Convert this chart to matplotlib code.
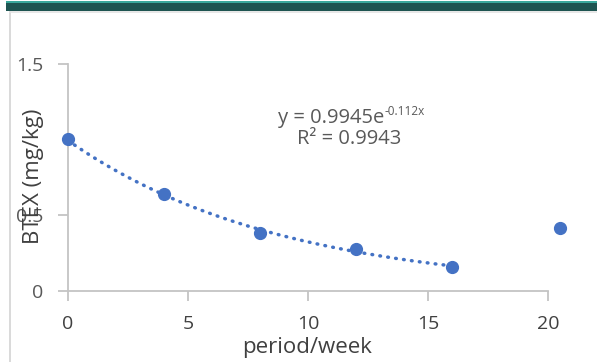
import matplotlib
matplotlib.use("Agg")
import matplotlib.pyplot as plt
import numpy as np
from matplotlib.patches import Rectangle
from matplotlib.lines import Line2D

weeks = [0, 4, 8, 12, 16, 20.5]
btex = [1.003, 0.641, 0.381, 0.278, 0.161, 0.414]
fit_a = 0.9945
fit_b = -0.112
fit_x_max = 16
x_ticks = [0, 5, 10, 15, 20]
y_ticks = [0, 0.5, 1.5]
y_ticklabels = ["0", "0.5", "1.5"]

W, H = 597, 362
fig = plt.figure(figsize=(W / 100, H / 100), dpi=100)
fig.patch.set_facecolor("white")

# header bars and frame
fig.add_artist(Rectangle((6 / W, 1 - 3 / H), 1, 2 / H, transform=fig.transFigure,
                         color="#3aa89c", lw=0))
fig.add_artist(Rectangle((6 / W, 1 - 10.7 / H), 1, 7.7 / H, transform=fig.transFigure,
                         color="#1e5451", lw=0))
fig.add_artist(Line2D([10 / W, 10 / W], [0, 1 - 11.5 / H], transform=fig.transFigure,
                      color="#d9d9d9", lw=1.4))
fig.add_artist(Line2D([10 / W, 1], [1 - 12 / H, 1 - 12 / H], transform=fig.transFigure,
                      color="#e3e3e3", lw=1.2))

x0, x1 = 68, 548
y0, y1 = 291, 64
ax = fig.add_axes([x0 / W, 1 - y0 / H, (x1 - x0) / W, (y0 - y1) / H])
ax.set_xlim(0, 20)
ax.set_ylim(0, 1.5)

font = "Open Sans"
ax.set_xticks(x_ticks)
ax.set_xticklabels([str(t) for t in x_ticks], fontsize=14, color="#404040", family=font)
ax.set_yticks(y_ticks)
ax.set_yticklabels(y_ticklabels, fontsize=14, color="#595959", family=font)
ax.tick_params(axis="both", length=7, width=1.3, color="#c4c4c4")
ax.tick_params(axis="x", pad=10)
ax.tick_params(axis="y", pad=11)

for s in ["top", "right"]:
    ax.spines[s].set_visible(False)
for s in ["left", "bottom"]:
    ax.spines[s].set_color("#c4c4c4")
    ax.spines[s].set_linewidth(1.3)

xf = np.linspace(0, fit_x_max, 200)
ax.plot(xf, fit_a * np.exp(fit_b * xf), color="#4472c4", lw=2.5,
        linestyle=(0, (0.2, 2.1)), dash_capstyle="round", zorder=2)
ax.plot(weeks, btex, "o", color="#4472c4", markersize=8.5, clip_on=False, zorder=3)

t_eq = ax.text((331 - x0) / (x1 - x0), (y0 - 123) / (y0 - y1), "y = 0.9945e",
               transform=ax.transAxes, ha="center", va="baseline", fontsize=14.5,
               color="#595959", family=font)
ax.annotate("-0.112x", xy=(1, 1), xycoords=t_eq, xytext=(0.5, 2.5),
            textcoords="offset points", ha="left", va="top", fontsize=8.5,
            color="#595959", family=font)
ax.text((349 - x0) / (x1 - x0), (y0 - 144) / (y0 - y1), "R² = 0.9943",
        transform=ax.transAxes, ha="center", va="baseline", fontsize=14.5,
        color="#595959", family=font)

fig.text(307 / W, 1 - 347 / H, "period/week", ha="center", va="center",
         fontsize=16, color="#404040", family=font)
fig.text(33 / W, 1 - 176.5 / H, "BTEX (mg/kg)", rotation=90, ha="center", va="center",
         fontsize=16, color="#404040", family=font)

fig.savefig("out.png", dpi=100)
